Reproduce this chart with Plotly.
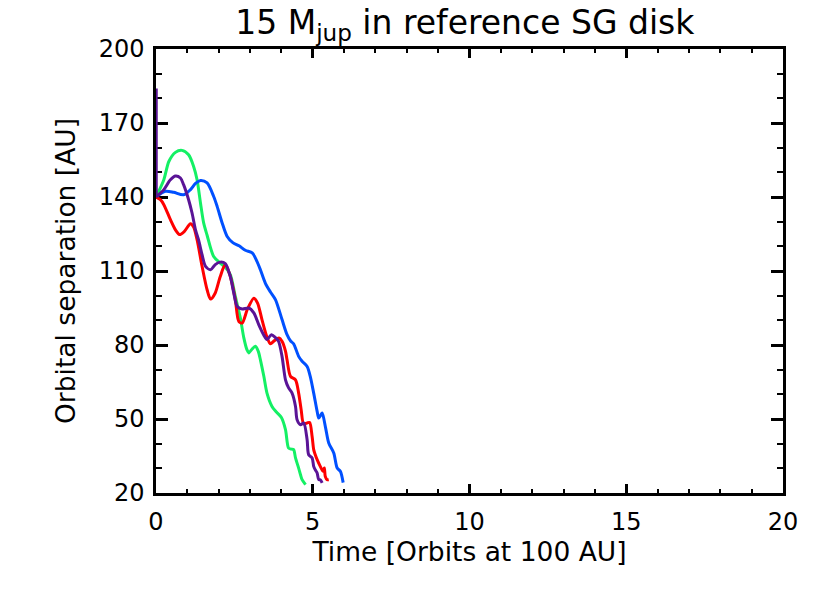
import plotly.graph_objects as go

# ---- data ----
green_t = [0, 0.25, 0.41, 0.62, 0.83, 1.04, 1.20, 1.31, 1.42, 1.52, 1.63, 1.84, 2.05, 2.21, 2.37, 2.53, 2.69, 2.80, 2.90, 2.96, 3.06, 3.17, 3.26, 3.33, 3.44, 3.54, 3.70, 3.84, 4.0, 4.13, 4.23, 4.32, 4.39, 4.45, 4.55, 4.61, 4.66, 4.77]
green_r = [140, 147, 154.4, 158.1, 158.9, 157.1, 152.4, 147, 137.5, 129.5, 124.5, 115.9, 113.2, 111.5, 108.5, 99.7, 91, 83, 78.1, 76.8, 78.3, 79.5, 77.5, 74, 67.3, 60.5, 55.1, 52.8, 50.6, 45.7, 38.2, 37.8, 37.6, 34.2, 30.1, 27.4, 25.4, 23.4]

blue_t = [0, 0.30, 0.56, 0.88, 1.10, 1.26, 1.42, 1.63, 1.84, 1.95, 2.11, 2.27, 2.45, 2.65, 2.85, 3.07, 3.22, 3.33, 3.49, 3.65, 3.81, 4.02, 4.18, 4.30, 4.39, 4.55, 4.66, 4.82, 4.92, 5.03, 5.14, 5.19, 5.25, 5.30, 5.41, 5.51, 5.67, 5.78, 5.88, 5.97]
blue_r = [140, 142.3, 141.9, 140.9, 143, 145.5, 146.7, 145.7, 140.2, 136.2, 129.5, 124, 121.5, 120.2, 118.4, 117.3, 113.9, 110.5, 105, 101.5, 98.4, 90.3, 84.2, 81.5, 80.5, 75.4, 73.4, 71.3, 67.3, 60.5, 53.1, 50.4, 51.5, 52.4, 46.4, 40.3, 36.2, 30.1, 28.8, 24.2]

red_t = [0, 0.14, 0.25, 0.46, 0.62, 0.75, 0.90, 1.10, 1.20, 1.31, 1.47, 1.63, 1.74, 1.89, 2.05, 2.21, 2.37, 2.53, 2.64, 2.75, 2.91, 3.12, 3.24, 3.38, 3.54, 3.65, 3.78, 3.92, 4.02, 4.13, 4.18, 4.29, 4.45, 4.55, 4.63, 4.71, 4.82, 4.90, 4.98, 5.03, 5.08, 5.14, 5.24, 5.33, 5.37, 5.40, 5.46, 5.51]
red_r = [140, 138.9, 136.9, 130.8, 126.7, 124.8, 126, 129.2, 127.8, 122.7, 111.9, 102.4, 98.6, 101.1, 107.8, 112.6, 107.8, 98.4, 89.6, 88.9, 94.3, 99, 97, 90.3, 83.2, 80.5, 81.8, 82.8, 81.5, 77.5, 74, 67.3, 65.9, 60.5, 53.8, 48, 48.4, 48.6, 42.9, 37.6, 35.5, 33.5, 30.8, 28.8, 30.1, 26.7, 25.4, 25.4]

purple_t = [0, 0, 0.25, 0.46, 0.62, 0.78, 0.88, 1.04, 1.15, 1.26, 1.36, 1.47, 1.58, 1.74, 1.89, 2.05, 2.21, 2.37, 2.48, 2.59, 2.75, 2.96, 3.12, 3.28, 3.44, 3.54, 3.68, 3.81, 3.91, 4.02, 4.13, 4.23, 4.34, 4.45, 4.50, 4.61, 4.71, 4.82, 4.87, 4.98, 5.03, 5.08, 5.14, 5.19, 5.24, 5.30]
purple_r = [184, 140, 143, 147, 148.5, 147.7, 145, 138.9, 133.5, 126.7, 122.5, 116.6, 111.9, 110.5, 112.6, 113.6, 113, 107.8, 101.1, 95.6, 94.6, 95, 93, 88.2, 84, 82.2, 84.2, 83, 81.5, 75.4, 65.9, 62.6, 60.5, 55.1, 49.7, 47.7, 48.4, 41.6, 35.5, 34.2, 30.8, 29.4, 28.1, 25.4, 25.4, 24.1]

x_ticks = [0, 5, 10, 15, 20]
y_ticks = [20, 50, 80, 110, 140, 170, 200]

FONT = "DejaVu Sans"
GREEN, BLUE, RED, PURPLE = "rgb(20,240,100)", "rgb(0,80,255)", "rgb(255,0,0)", "rgb(90,20,150)"

fig = go.Figure()
series = [
    (green_t, green_r, GREEN),
    (blue_t, blue_r, BLUE),
    (red_t, red_r, RED),
    (purple_t[1:], purple_r[1:], PURPLE),
]
for t, r, c in series:
    fig.add_trace(go.Scatter(x=t, y=r, mode="lines",
                             line=dict(color=c, width=3, shape="spline", smoothing=0.8),
                             showlegend=False, hoverinfo="skip"))
# initial vertical jump of the purple run at t = 0
fig.add_trace(go.Scatter(x=purple_t[:2], y=purple_r[:2], mode="lines",
                         line=dict(color=PURPLE, width=3.5), cliponaxis=False,
                         showlegend=False, hoverinfo="skip"))

fig.update_layout(
    width=830, height=593,
    paper_bgcolor="white", plot_bgcolor="white",
    margin=dict(l=156, r=47, t=49, b=100),
    font=dict(family=FONT, size=24, color="black"),
    title=dict(text="15 M<sub>jup</sub> in reference SG disk", x=0.560, xanchor="center",
               y=0.962, yanchor="middle", font=dict(family=FONT, size=33, color="black")),
)
fig.update_xaxes(range=[0, 20], tickvals=x_ticks, ticktext=[str(v) for v in x_ticks],
                 showgrid=False, zeroline=False, showline=True, linecolor="black", linewidth=2.5,
                 mirror="allticks", ticks="inside", ticklen=9, tickwidth=2.5, tickcolor="black",
                 minor=dict(dtick=1, ticks="inside", ticklen=4.5, tickwidth=2, tickcolor="black"),
                 ticklabelstandoff=5, layer="below traces",
                 title=dict(text="Time [Orbits at 100 AU]", font=dict(size=26.5), standoff=4))
fig.update_yaxes(range=[20, 200], tickvals=y_ticks, ticktext=[str(v) for v in y_ticks],
                 showgrid=False, zeroline=False, showline=True, linecolor="black", linewidth=2.5,
                 mirror="allticks", ticks="inside", ticklen=12.5, tickwidth=2.5, tickcolor="black",
                 minor=dict(dtick=10, ticks="inside", ticklen=6.5, tickwidth=2, tickcolor="black"),
                 ticklabelstandoff=4, layer="below traces",
                 title=dict(text="Orbital separation [AU]", font=dict(size=26.5), standoff=16))

fig.write_html("out.html", config={"displayModeBar": False},
               post_script="document.body.style.margin='0';")
